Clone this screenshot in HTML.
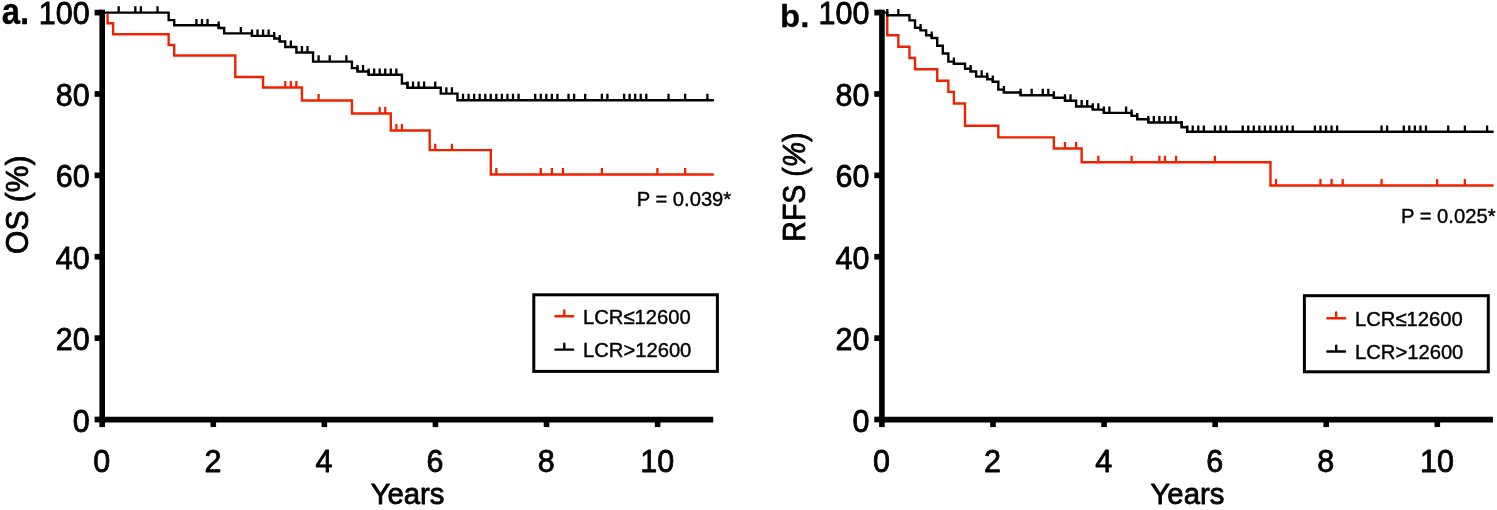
<!DOCTYPE html>
<html lang="en">
<head>
<meta charset="utf-8">
<title>Kaplan-Meier curves: OS and RFS by LCR</title>
<style>
html,body{margin:0;padding:0;background:#fff;}
body{width:1497px;height:510px;overflow:hidden;font-family:"Liberation Sans", Arial, Helvetica, sans-serif;}
svg text{font-family:"Liberation Sans", Arial, Helvetica, sans-serif;}
svg{will-change:transform;opacity:0.999;}
</style>
</head>
<body>
<svg width="1497" height="510" viewBox="0 0 1497 510" style="display:block;font-family:'Liberation Sans', Arial, Helvetica, sans-serif" font-family='&quot;Liberation Sans&quot;, Arial, Helvetica, sans-serif' fill="#000">
<rect width="1497" height="510" fill="#fff"/>
<g id="chart-a">
<path d="M107.55 14.60 H107.55 V23.30 H113.11 V34.30 H168.65 V45.00 H174.20 V55.50 H235.30 V77.00 H263.07 V87.50 H301.94 V100.50 H351.93 V113.50 H390.81 V130.50 H429.69 V150.10 H490.78 V174.50 H712.94" fill="none" stroke="#ee2200" stroke-width="2.40" stroke-linecap="round" stroke-linejoin="miter"/>
<path d="M285.28 87.50 V81.10 M290.84 87.50 V81.10 M296.39 87.50 V81.10 M318.61 100.50 V94.10 M379.70 113.50 V107.10 M385.25 113.50 V107.10 M396.36 130.50 V124.10 M401.92 130.50 V124.10 M435.24 150.10 V143.70 M451.90 150.10 V143.70 M496.33 174.50 V168.10 M540.77 174.50 V168.10 M551.87 174.50 V168.10 M562.98 174.50 V168.10 M601.86 174.50 V168.10 M657.40 174.50 V168.10 M685.17 174.50 V168.10" fill="none" stroke="#ee2200" stroke-width="2.30" stroke-linecap="butt"/>
<path d="M102.00 12.60 H168.65 V20.10 H174.20 V25.30 H218.63 V28.00 H224.19 V33.40 H251.96 V35.90 H274.17 V38.50 H279.73 V41.50 H285.28 V47.00 H296.39 V52.50 H313.05 V61.60 H351.93 V68.10 H357.48 V71.50 H368.59 V74.80 H401.92 V83.50 H407.47 V87.80 H440.79 V93.60 H457.46 V100.20 H712.94" fill="none" stroke="#000000" stroke-width="2.40" stroke-linecap="round" stroke-linejoin="miter"/>
<path d="M118.66 12.60 V6.20 M135.32 12.60 V6.20 M140.88 12.60 V6.20 M157.54 12.60 V6.20 M196.42 25.30 V18.90 M201.97 25.30 V18.90 M207.53 25.30 V18.90 M218.63 28.00 V21.60 M240.85 33.40 V27.00 M251.96 35.90 V29.50 M257.51 35.90 V29.50 M263.07 35.90 V29.50 M268.62 35.90 V29.50 M274.17 38.50 V32.10 M279.73 41.50 V35.10 M290.84 47.00 V40.60 M301.94 52.50 V46.10 M307.50 52.50 V46.10 M318.61 61.60 V55.20 M329.71 61.60 V55.20 M346.38 61.60 V55.20 M357.48 71.50 V65.10 M363.04 71.50 V65.10 M368.59 74.80 V68.40 M374.15 74.80 V68.40 M379.70 74.80 V68.40 M385.25 74.80 V68.40 M390.81 74.80 V68.40 M396.36 74.80 V68.40 M407.47 87.80 V81.40 M413.02 87.80 V81.40 M418.58 87.80 V81.40 M424.13 87.80 V81.40 M435.24 87.80 V81.40 M446.35 93.60 V87.20 M451.90 93.60 V87.20 M463.01 100.20 V93.80 M468.56 100.20 V93.80 M474.12 100.20 V93.80 M479.67 100.20 V93.80 M485.23 100.20 V93.80 M490.78 100.20 V93.80 M496.33 100.20 V93.80 M501.89 100.20 V93.80 M507.44 100.20 V93.80 M513.00 100.20 V93.80 M518.55 100.20 V93.80 M535.21 100.20 V93.80 M540.77 100.20 V93.80 M546.32 100.20 V93.80 M551.87 100.20 V93.80 M557.43 100.20 V93.80 M568.54 100.20 V93.80 M574.09 100.20 V93.80 M585.20 100.20 V93.80 M601.86 100.20 V93.80 M607.41 100.20 V93.80 M624.08 100.20 V93.80 M629.63 100.20 V93.80 M635.18 100.20 V93.80 M640.74 100.20 V93.80 M646.29 100.20 V93.80 M668.51 100.20 V93.80 M685.17 100.20 V93.80 M707.39 100.20 V93.80" fill="none" stroke="#000000" stroke-width="2.30" stroke-linecap="butt"/>
<line x1="102.20" y1="9.80" x2="102.20" y2="422.30" stroke="#000" stroke-width="5.60"/>
<line x1="99.40" y1="419.60" x2="713.24" y2="419.60" stroke="#000" stroke-width="5.70"/>
<line x1="94.60" y1="419.50" x2="102.20" y2="419.50" stroke="#000" stroke-width="5.7"/>
<text transform="translate(89.70 431.85) scale(1.000 1.015)" font-size="30.5" text-anchor="end" stroke="#000" stroke-width="0.80" stroke-linejoin="round">0</text>
<line x1="94.60" y1="338.12" x2="102.20" y2="338.12" stroke="#000" stroke-width="5.7"/>
<text transform="translate(89.70 350.29) scale(1.000 1.015)" font-size="30.5" text-anchor="end" stroke="#000" stroke-width="0.80" stroke-linejoin="round">20</text>
<line x1="94.60" y1="256.74" x2="102.20" y2="256.74" stroke="#000" stroke-width="5.7"/>
<text transform="translate(89.70 268.73) scale(1.000 1.015)" font-size="30.5" text-anchor="end" stroke="#000" stroke-width="0.80" stroke-linejoin="round">40</text>
<line x1="94.60" y1="175.36" x2="102.20" y2="175.36" stroke="#000" stroke-width="5.7"/>
<text transform="translate(89.70 187.17) scale(1.000 1.015)" font-size="30.5" text-anchor="end" stroke="#000" stroke-width="0.80" stroke-linejoin="round">60</text>
<line x1="94.60" y1="93.98" x2="102.20" y2="93.98" stroke="#000" stroke-width="5.7"/>
<text transform="translate(89.70 105.61) scale(1.000 1.015)" font-size="30.5" text-anchor="end" stroke="#000" stroke-width="0.80" stroke-linejoin="round">80</text>
<line x1="94.60" y1="12.60" x2="102.20" y2="12.60" stroke="#000" stroke-width="5.7"/>
<text transform="translate(89.70 24.05) scale(1.000 1.015)" font-size="30.5" text-anchor="end" stroke="#000" stroke-width="0.80" stroke-linejoin="round">100</text>
<line x1="102.20" y1="419.50" x2="102.20" y2="427.10" stroke="#000" stroke-width="5.6"/>
<text transform="translate(101.80 471.50) scale(1.000 1.015)" font-size="30.5" text-anchor="middle" stroke="#000" stroke-width="0.80" stroke-linejoin="round">0</text>
<line x1="213.28" y1="419.50" x2="213.28" y2="427.10" stroke="#000" stroke-width="5.6"/>
<text transform="translate(212.88 471.50) scale(1.000 1.015)" font-size="30.5" text-anchor="middle" stroke="#000" stroke-width="0.80" stroke-linejoin="round">2</text>
<line x1="324.36" y1="419.50" x2="324.36" y2="427.10" stroke="#000" stroke-width="5.6"/>
<text transform="translate(323.96 471.50) scale(1.000 1.015)" font-size="30.5" text-anchor="middle" stroke="#000" stroke-width="0.80" stroke-linejoin="round">4</text>
<line x1="435.44" y1="419.50" x2="435.44" y2="427.10" stroke="#000" stroke-width="5.6"/>
<text transform="translate(435.04 471.50) scale(1.000 1.015)" font-size="30.5" text-anchor="middle" stroke="#000" stroke-width="0.80" stroke-linejoin="round">6</text>
<line x1="546.52" y1="419.50" x2="546.52" y2="427.10" stroke="#000" stroke-width="5.6"/>
<text transform="translate(546.12 471.50) scale(1.000 1.015)" font-size="30.5" text-anchor="middle" stroke="#000" stroke-width="0.80" stroke-linejoin="round">8</text>
<line x1="657.60" y1="419.50" x2="657.60" y2="427.10" stroke="#000" stroke-width="5.6"/>
<text transform="translate(657.20 471.50) scale(1.000 1.015)" font-size="30.5" text-anchor="middle" stroke="#000" stroke-width="0.80" stroke-linejoin="round">10</text>
<text transform="translate(1.70 23.70) scale(0.940 1.060)" font-size="35" text-anchor="start" font-weight="bold" stroke="#000" stroke-width="0.30" stroke-linejoin="round">a.</text>
<text transform="translate(27.80 253.90) rotate(-90) scale(1.000 1.030)" font-size="30" text-anchor="start" stroke="#000" stroke-width="0.80" stroke-linejoin="round">OS (%)</text>
<text transform="translate(407.60 504.20) scale(1.000 0.990)" font-size="29.3" text-anchor="middle" stroke="#000" stroke-width="0.80" stroke-linejoin="round">Years</text>
<text transform="translate(636.70 205.70) scale(1.000 1.030)" font-size="20.2" text-anchor="start" stroke="#000" stroke-width="0.40" stroke-linejoin="round">P = 0.039*</text>
<rect x="533.80" y="294.80" width="183.60" height="76.60" fill="#fff" stroke="#000" stroke-width="3"/>
<path d="M555.40 316.30 H573.20 M564.30 316.30 V310.50" fill="none" stroke="#ee2200" stroke-width="2.4" stroke-linecap="round"/>
<text transform="translate(583.00 324.10) scale(1.000 1.030)" font-size="20.2" text-anchor="start" stroke="#000" stroke-width="0.40" stroke-linejoin="round">LCR≤12600</text>
<path d="M555.40 349.60 H573.20 M564.30 349.60 V343.80" fill="none" stroke="#000000" stroke-width="2.4" stroke-linecap="round"/>
<text transform="translate(583.00 357.40) scale(1.000 1.030)" font-size="20.2" text-anchor="start" stroke="#000" stroke-width="0.40" stroke-linejoin="round">LCR&gt;12600</text>
</g>
<g id="chart-b">
<path d="M887.25 14.60 H887.25 V35.30 H898.36 V46.80 H909.47 V58.00 H915.02 V69.30 H937.24 V80.70 H948.35 V91.90 H953.90 V103.50 H965.01 V125.80 H998.33 V137.40 H1053.87 V148.50 H1081.64 V162.20 H1270.48 V185.50 H1492.64" fill="none" stroke="#ee2200" stroke-width="2.40" stroke-linecap="round" stroke-linejoin="miter"/>
<path d="M1064.98 148.50 V142.10 M1076.09 148.50 V142.10 M1098.31 162.20 V155.80 M1131.63 162.20 V155.80 M1159.40 162.20 V155.80 M1164.95 162.20 V155.80 M1176.06 162.20 V155.80 M1214.94 162.20 V155.80 M1276.03 185.50 V179.10 M1320.47 185.50 V179.10 M1331.57 185.50 V179.10 M1342.68 185.50 V179.10 M1381.56 185.50 V179.10 M1437.10 185.50 V179.10 M1464.87 185.50 V179.10" fill="none" stroke="#ee2200" stroke-width="2.30" stroke-linecap="butt"/>
<path d="M881.70 12.60 H887.25 V15.30 H909.47 V20.35 H915.02 V27.70 H920.58 V30.40 H926.13 V35.30 H931.69 V38.00 H937.24 V45.80 H942.79 V53.50 H948.35 V61.60 H953.90 V63.80 H965.01 V68.80 H970.56 V71.50 H976.12 V76.60 H987.23 V79.20 H992.78 V81.80 H998.33 V89.60 H1003.89 V92.50 H1020.55 V95.20 H1053.87 V97.70 H1064.98 V100.70 H1076.09 V106.50 H1092.75 V109.60 H1103.86 V112.90 H1131.63 V115.90 H1137.18 V119.30 H1148.29 V122.50 H1181.62 V127.30 H1187.17 V131.80 H1492.64" fill="none" stroke="#000000" stroke-width="2.40" stroke-linecap="round" stroke-linejoin="miter"/>
<path d="M887.25 15.30 V8.90 M898.36 15.30 V8.90 M920.58 30.40 V24.00 M931.69 38.00 V31.60 M953.90 63.80 V57.40 M970.56 71.50 V65.10 M981.67 76.60 V70.20 M987.23 79.20 V72.80 M992.78 81.80 V75.40 M1003.89 92.50 V86.10 M1020.55 95.20 V88.80 M1031.66 95.20 V88.80 M1042.77 95.20 V88.80 M1048.32 95.20 V88.80 M1053.87 97.70 V91.30 M1064.98 100.70 V94.30 M1070.54 100.70 V94.30 M1081.64 106.50 V100.10 M1087.20 106.50 V100.10 M1092.75 109.60 V103.20 M1098.31 109.60 V103.20 M1103.86 112.90 V106.50 M1109.41 112.90 V106.50 M1126.08 112.90 V106.50 M1131.63 115.90 V109.50 M1137.18 119.30 V112.90 M1148.29 122.50 V116.10 M1153.85 122.50 V116.10 M1159.40 122.50 V116.10 M1164.95 122.50 V116.10 M1170.51 122.50 V116.10 M1176.06 122.50 V116.10 M1181.62 127.30 V120.90 M1187.17 131.80 V125.40 M1192.72 131.80 V125.40 M1198.28 131.80 V125.40 M1203.83 131.80 V125.40 M1214.94 131.80 V125.40 M1220.49 131.80 V125.40 M1226.05 131.80 V125.40 M1242.71 131.80 V125.40 M1248.26 131.80 V125.40 M1253.82 131.80 V125.40 M1259.37 131.80 V125.40 M1264.93 131.80 V125.40 M1270.48 131.80 V125.40 M1276.03 131.80 V125.40 M1281.59 131.80 V125.40 M1287.14 131.80 V125.40 M1292.70 131.80 V125.40 M1314.91 131.80 V125.40 M1320.47 131.80 V125.40 M1326.02 131.80 V125.40 M1331.57 131.80 V125.40 M1337.13 131.80 V125.40 M1381.56 131.80 V125.40 M1387.11 131.80 V125.40 M1403.78 131.80 V125.40 M1409.33 131.80 V125.40 M1414.88 131.80 V125.40 M1420.44 131.80 V125.40 M1425.99 131.80 V125.40 M1448.21 131.80 V125.40 M1464.87 131.80 V125.40 M1487.09 131.80 V125.40" fill="none" stroke="#000000" stroke-width="2.30" stroke-linecap="butt"/>
<line x1="881.90" y1="9.80" x2="881.90" y2="422.30" stroke="#000" stroke-width="5.60"/>
<line x1="879.10" y1="419.60" x2="1492.94" y2="419.60" stroke="#000" stroke-width="5.70"/>
<line x1="874.30" y1="419.50" x2="881.90" y2="419.50" stroke="#000" stroke-width="5.7"/>
<text transform="translate(869.50 431.85) scale(1.000 1.015)" font-size="30.5" text-anchor="end" stroke="#000" stroke-width="0.80" stroke-linejoin="round">0</text>
<line x1="874.30" y1="338.12" x2="881.90" y2="338.12" stroke="#000" stroke-width="5.7"/>
<text transform="translate(869.50 350.29) scale(1.000 1.015)" font-size="30.5" text-anchor="end" stroke="#000" stroke-width="0.80" stroke-linejoin="round">20</text>
<line x1="874.30" y1="256.74" x2="881.90" y2="256.74" stroke="#000" stroke-width="5.7"/>
<text transform="translate(869.50 268.73) scale(1.000 1.015)" font-size="30.5" text-anchor="end" stroke="#000" stroke-width="0.80" stroke-linejoin="round">40</text>
<line x1="874.30" y1="175.36" x2="881.90" y2="175.36" stroke="#000" stroke-width="5.7"/>
<text transform="translate(869.50 187.17) scale(1.000 1.015)" font-size="30.5" text-anchor="end" stroke="#000" stroke-width="0.80" stroke-linejoin="round">60</text>
<line x1="874.30" y1="93.98" x2="881.90" y2="93.98" stroke="#000" stroke-width="5.7"/>
<text transform="translate(869.50 105.61) scale(1.000 1.015)" font-size="30.5" text-anchor="end" stroke="#000" stroke-width="0.80" stroke-linejoin="round">80</text>
<line x1="874.30" y1="12.60" x2="881.90" y2="12.60" stroke="#000" stroke-width="5.7"/>
<text transform="translate(869.50 24.05) scale(1.000 1.015)" font-size="30.5" text-anchor="end" stroke="#000" stroke-width="0.80" stroke-linejoin="round">100</text>
<line x1="881.90" y1="419.50" x2="881.90" y2="427.10" stroke="#000" stroke-width="5.6"/>
<text transform="translate(881.50 471.50) scale(1.000 1.015)" font-size="30.5" text-anchor="middle" stroke="#000" stroke-width="0.80" stroke-linejoin="round">0</text>
<line x1="992.98" y1="419.50" x2="992.98" y2="427.10" stroke="#000" stroke-width="5.6"/>
<text transform="translate(992.58 471.50) scale(1.000 1.015)" font-size="30.5" text-anchor="middle" stroke="#000" stroke-width="0.80" stroke-linejoin="round">2</text>
<line x1="1104.06" y1="419.50" x2="1104.06" y2="427.10" stroke="#000" stroke-width="5.6"/>
<text transform="translate(1103.66 471.50) scale(1.000 1.015)" font-size="30.5" text-anchor="middle" stroke="#000" stroke-width="0.80" stroke-linejoin="round">4</text>
<line x1="1215.14" y1="419.50" x2="1215.14" y2="427.10" stroke="#000" stroke-width="5.6"/>
<text transform="translate(1214.74 471.50) scale(1.000 1.015)" font-size="30.5" text-anchor="middle" stroke="#000" stroke-width="0.80" stroke-linejoin="round">6</text>
<line x1="1326.22" y1="419.50" x2="1326.22" y2="427.10" stroke="#000" stroke-width="5.6"/>
<text transform="translate(1325.82 471.50) scale(1.000 1.015)" font-size="30.5" text-anchor="middle" stroke="#000" stroke-width="0.80" stroke-linejoin="round">8</text>
<line x1="1437.30" y1="419.50" x2="1437.30" y2="427.10" stroke="#000" stroke-width="5.6"/>
<text transform="translate(1436.90 471.50) scale(1.000 1.015)" font-size="30.5" text-anchor="middle" stroke="#000" stroke-width="0.80" stroke-linejoin="round">10</text>
<text transform="translate(780.10 26.60) scale(0.940 0.915)" font-size="35" text-anchor="start" font-weight="bold" stroke="#000" stroke-width="0.30" stroke-linejoin="round">b.</text>
<text transform="translate(805.30 241.70) rotate(-90) scale(0.950 1.030)" font-size="30" text-anchor="start" stroke="#000" stroke-width="0.80" stroke-linejoin="round">RFS (<tspan font-style="italic">%</tspan>)</text>
<text transform="translate(1187.40 504.20) scale(1.000 0.990)" font-size="29.3" text-anchor="middle" stroke="#000" stroke-width="0.80" stroke-linejoin="round">Years</text>
<text transform="translate(1401.00 222.50) scale(1.000 1.030)" font-size="20.2" text-anchor="start" stroke="#000" stroke-width="0.40" stroke-linejoin="round">P = 0.025*</text>
<rect x="1304.40" y="295.70" width="183.90" height="76.10" fill="#fff" stroke="#000" stroke-width="3"/>
<path d="M1327.30 318.20 H1345.10 M1336.20 318.20 V312.40" fill="none" stroke="#ee2200" stroke-width="2.4" stroke-linecap="round"/>
<text transform="translate(1355.00 326.00) scale(1.000 1.030)" font-size="20.2" text-anchor="start" stroke="#000" stroke-width="0.40" stroke-linejoin="round">LCR≤12600</text>
<path d="M1327.30 351.50 H1345.10 M1336.20 351.50 V345.70" fill="none" stroke="#000000" stroke-width="2.4" stroke-linecap="round"/>
<text transform="translate(1355.00 359.30) scale(1.000 1.030)" font-size="20.2" text-anchor="start" stroke="#000" stroke-width="0.40" stroke-linejoin="round">LCR&gt;12600</text>
</g>
</svg>
</body>
</html>
